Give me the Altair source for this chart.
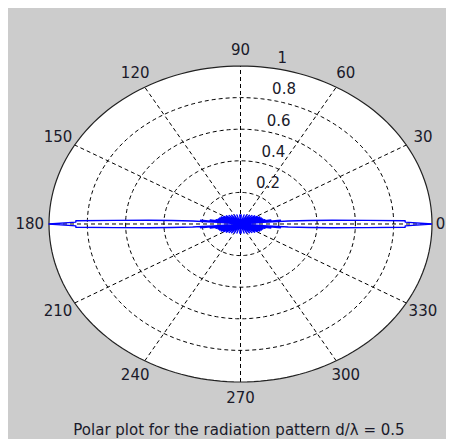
import altair as alt
import pandas as pd

# ---- data -----------------------------------------------------------------
# One quadrant (0..90 deg) of the normalised radiation pattern; the picture is
# symmetric about both the 0-180 and 90-270 axes.
PATTERN_ANGLE_DEG = [0, 0.8, 1.4, 2.0, 2.8, 3.6, 4.4, 5.0, 5.5,
                     6.5, 7.8, 9.0, 10.5, 12.0, 13.8, 15.5, 17.5, 19.5, 21.7,
                     24.0, 26.5, 29.0, 32.0, 35.0, 38.5, 42.0, 46.0, 50.0, 55.0,
                     60.0, 66.0, 72.0, 79.0, 86.0, 90.0]
PATTERN_GAIN = [1.00, 0.86, 0.86, 0.66, 0.48, 0.36, 0.25, 0.12, 0.0,
                0.21, 0.0, 0.16, 0.0, 0.13, 0.0, 0.12, 0.0, 0.115, 0.0,
                0.11, 0.0, 0.10, 0.0, 0.09, 0.0, 0.08, 0.0, 0.072, 0.0,
                0.065, 0.0, 0.06, 0.0, 0.057, 0.056]

RING_RADII = [0.2, 0.4, 0.6, 0.8]
OUTER_RADIUS = [1.0]
SPOKE_ANGLES = [0, 30, 60, 90, 120, 150]
ANGLE_TICKS = [0, 30, 60, 90, 120, 150, 180, 210, 240, 270, 300, 330]
ANGLE_LABEL_RADIUS = 1.1
RADIAL_TICKS = [0.2, 0.4, 0.6, 0.8, 1.0]
RADIAL_LABELS = ["0.2", "0.4", "0.6", "0.8", "1"]
RADIAL_LABEL_ANGLE = 82
TITLE = "Polar plot for the radiation pattern d/\u03bb = 0.5"

# ---- tables ----------------------------------------------------------------
q = list(zip(PATTERN_ANGLE_DEG, PATTERN_GAIN))
full = []
full += [(a, g) for a, g in q]
full += [(180 - a, g) for a, g in reversed(q)][1:]
full += [(180 + a, g) for a, g in q][1:]
full += [(360 - a, g) for a, g in reversed(q)][1:]
pattern = pd.DataFrame({"angle": [a for a, _ in full],
                        "r": [g for _, g in full],
                        "order": list(range(len(full)))})

grid_rows = []
for rr in RING_RADII:
    for k, a in enumerate(range(0, 361, 2)):
        grid_rows.append({"ring": rr, "angle": a, "r": rr, "order": k})
rings = pd.DataFrame(grid_rows)
outer = pd.DataFrame([{"ring": 1.0, "angle": a, "r": OUTER_RADIUS[0], "order": k}
                      for k, a in enumerate(range(0, 361, 2))])
disk = pd.DataFrame({"angle": list(range(0, 181, 2))})
spokes = pd.DataFrame({"angle": SPOKE_ANGLES})
angle_lbl = pd.DataFrame({"angle": ANGLE_TICKS, "label": [str(a) for a in ANGLE_TICKS]})
radial_lbl = pd.DataFrame({"r": RADIAL_TICKS, "label": RADIAL_LABELS,
                           "angle": [RADIAL_LABEL_ANGLE] * len(RADIAL_TICKS)})

# ---- scales -----------------------------------------------------------------
W, H = 438, 431
XS = alt.Scale(domain=[-1.2141, 1.0731], nice=False, zero=False)
YS = alt.Scale(domain=[-1.3608, 1.3671], nice=False, zero=False)
RAD = "PI/180"
FONT = "DejaVu Sans"

def xy(chart, rexpr="datum.r"):
    return chart.transform_calculate(
        px=f"{rexpr}*cos(datum.angle*{RAD})",
        py=f"{rexpr}*sin(datum.angle*{RAD})",
    )

disk_layer = alt.Chart(disk).transform_calculate(
    px=f"cos(datum.angle*{RAD})",
    py=f"sin(datum.angle*{RAD})",
    ny=f"-sin(datum.angle*{RAD})",
).mark_area(color="white", opacity=1).encode(
    x=alt.X("px:Q", scale=XS, axis=None),
    y=alt.Y("py:Q", scale=YS, axis=None),
    y2="ny:Q",
)

ring_layer = xy(alt.Chart(rings)).mark_line(
    color="#000000", strokeWidth=1, strokeDash=[4, 3]
).encode(
    x=alt.X("px:Q", scale=XS, axis=None),
    y=alt.Y("py:Q", scale=YS, axis=None),
    detail="ring:N",
    order="order:Q",
)

spoke_layer = alt.Chart(spokes).transform_calculate(
    px=f"cos(datum.angle*{RAD})",
    py=f"sin(datum.angle*{RAD})",
    nx=f"-cos(datum.angle*{RAD})",
    ny=f"-sin(datum.angle*{RAD})",
).mark_rule(color="#000000", strokeWidth=1, strokeDash=[4, 3]).encode(
    x=alt.X("nx:Q", scale=XS, axis=None),
    y=alt.Y("ny:Q", scale=YS, axis=None),
    x2="px:Q",
    y2="py:Q",
)

outer_layer = xy(alt.Chart(outer)).mark_line(
    color="#222222", strokeWidth=1.2
).encode(
    x=alt.X("px:Q", scale=XS, axis=None),
    y=alt.Y("py:Q", scale=YS, axis=None),
    order="order:Q",
)

pattern_layer = xy(alt.Chart(pattern)).mark_line(
    color="#0000ff", strokeWidth=1.4, strokeJoin="round"
).encode(
    x=alt.X("px:Q", scale=XS, axis=None),
    y=alt.Y("py:Q", scale=YS, axis=None),
    order="order:Q",
)

# angle labels; the one at 0 deg is pulled inside the visible page edge
angle_text = alt.Chart(angle_lbl).transform_calculate(
    px=f"min({ANGLE_LABEL_RADIUS}*cos(datum.angle*{RAD}), 1.045)",
    py=f"{ANGLE_LABEL_RADIUS}*sin(datum.angle*{RAD})",
).mark_text(
    font=FONT, fontSize=15, color="#1a1a2a", align="center", baseline="middle"
).encode(
    x=alt.X("px:Q", scale=XS, axis=None),
    y=alt.Y("py:Q", scale=YS, axis=None),
    text="label:N",
)

radial_text = xy(alt.Chart(radial_lbl), "(datum.r+0.01)").mark_text(
    font=FONT, fontSize=15, color="#1a1a2a", align="left", baseline="bottom", dx=10
).encode(
    x=alt.X("px:Q", scale=XS, axis=None),
    y=alt.Y("py:Q", scale=YS, axis=None),
    text="label:N",
)

chart = alt.layer(
    disk_layer, ring_layer, spoke_layer, outer_layer, pattern_layer,
    angle_text, radial_text,
).properties(
    width=W, height=H,
    title=alt.TitleParams(TITLE, orient="bottom", anchor="middle", font=FONT,
                          fontSize=15, fontWeight="normal", color="#1a1a2a",
                          offset=-16, dx=12),
    padding=0,
    autosize=alt.AutoSizeParams(type="none"),
    background="#cccccc",
).configure_view(stroke=None)

chart.save("out.html", embed_options={"renderer": "svg", "actions": False})
